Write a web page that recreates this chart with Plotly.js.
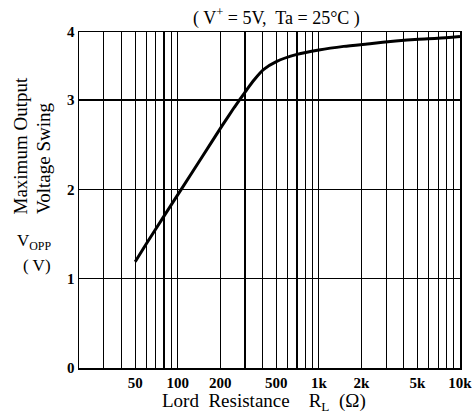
<!DOCTYPE html>
<html>
<head>
<meta charset="utf-8">
<script src="https://cdn.plot.ly/plotly-3.0.1.min.js"></script>
<style>html,body{margin:0;padding:0;background:#fff;}#chart{width:472px;height:418px;}</style>
</head>
<body>
<div id="chart"></div>
<script>
// Load resistance (ohm) and maximum output voltage swing (V)
var resistance = [50, 60, 80, 106, 150, 206, 250, 280, 310, 350, 405, 500, 700, 1000, 1500, 2300, 3500, 5100, 7000, 10000];
var voltage    = [1.19, 1.39, 1.70, 2.00, 2.37, 2.71, 2.91, 3.02, 3.12, 3.23, 3.34, 3.43, 3.51, 3.56, 3.60, 3.63, 3.66, 3.68, 3.69, 3.71];

// Axis ticks (the scan's top frame line is labelled "4")
var xTickVals = [50, 100, 200, 500, 1000, 2000, 5000, 10000];
var xTickText = ['50', '100', '200', '500', '1k', '2k', '5k', '10k'];
var xMinorVals = [30, 40, 60, 70, 80, 90, 300, 400, 600, 700, 800, 900, 3000, 4000, 6000, 7000, 8000, 9000];
var yTopValue = 3.76;
var yTickVals = [0, 1, 2, 3, yTopValue];
var yTickText = ['0', '1', '2', '3', '4'];

var serif = 'Liberation Serif, Times New Roman, serif';
var L = 79, R = 12, T = 32, B = 50;
var W = 472, H = 418;
var pw = W - L - R, ph = H - T - B;
function px(x) { return (x - L) / pw; }
function py(y) { return (H - B - y) / ph; }

var trace = {
  x: resistance, y: voltage, type: 'scatter', mode: 'lines',
  line: {color: '#000', width: 3, shape: 'spline', smoothing: 0.6},
  hoverinfo: 'skip'
};

var layout = {
  width: W, height: H,
  margin: {l: L, r: R, t: T, b: B},
  paper_bgcolor: '#fff', plot_bgcolor: '#fff',
  showlegend: false,
  font: {family: serif, color: '#000'},
  xaxis: {
    type: 'log', range: [Math.log10(20), 4],
    tickmode: 'array', tickvals: xTickVals, ticktext: xTickText,
    showgrid: true, gridcolor: '#000', gridwidth: 1.2,
    minor: {tickmode: 'array', tickvals: xMinorVals, showgrid: true, gridcolor: '#000', gridwidth: 1.2, ticks: ''},
    ticks: '', showline: true, linecolor: '#000', linewidth: 1.5, mirror: true,
    zeroline: false, automargin: false, ticklabeloverflow: 'allow',
    tickfont: {family: serif, size: 15, color: '#000', weight: 'bold'},
    title: {text: ''}
  },
  yaxis: {
    range: [0, yTopValue + 0.001],
    tickmode: 'array', tickvals: yTickVals, ticktext: yTickText,
    showgrid: true, gridcolor: '#000', gridwidth: 1.2,
    ticks: '', showline: true, linecolor: '#000', linewidth: 1.5, mirror: true,
    zeroline: false, automargin: false, ticklabeloverflow: 'allow',
    tickfont: {family: serif, size: 15, color: '#000', weight: 'bold'},
    title: {text: ''}
  },
  annotations: [
    {text: '( V<sup>+</sup> = 5V,  Ta = 25°C )', xref: 'paper', yref: 'paper', x: px(276), y: py(17),
     xanchor: 'center', yanchor: 'middle', showarrow: false, font: {family: serif, size: 18, color: '#000'}},
    {text: 'Lord  Resistance    R<sub>L</sub>  (Ω)', xref: 'paper', yref: 'paper', x: px(264), y: py(402),
     xanchor: 'center', yanchor: 'middle', showarrow: false, font: {family: serif, size: 19, color: '#000'}},
    {text: 'Maximum Output', textangle: -90, xref: 'paper', yref: 'paper', x: px(20), y: py(216),
     xanchor: 'center', yanchor: 'bottom', showarrow: false, font: {family: serif, size: 19, color: '#000'}},
    {text: 'Voltage Swing', textangle: -90, xref: 'paper', yref: 'paper', x: px(43), y: py(216),
     xanchor: 'center', yanchor: 'bottom', showarrow: false, font: {family: serif, size: 19, color: '#000'}},
    {text: 'V<sub>OPP</sub>', xref: 'paper', yref: 'paper', x: px(34), y: py(242),
     xanchor: 'center', yanchor: 'middle', showarrow: false, font: {family: serif, size: 17, color: '#000'}},
    {text: '( V)', xref: 'paper', yref: 'paper', x: px(37), y: py(265),
     xanchor: 'center', yanchor: 'middle', showarrow: false, font: {family: serif, size: 17, color: '#000'}}
  ]
};

Plotly.newPlot('chart', [trace], layout, {staticPlot: true, displayModeBar: false});
</script>
</body>
</html>
